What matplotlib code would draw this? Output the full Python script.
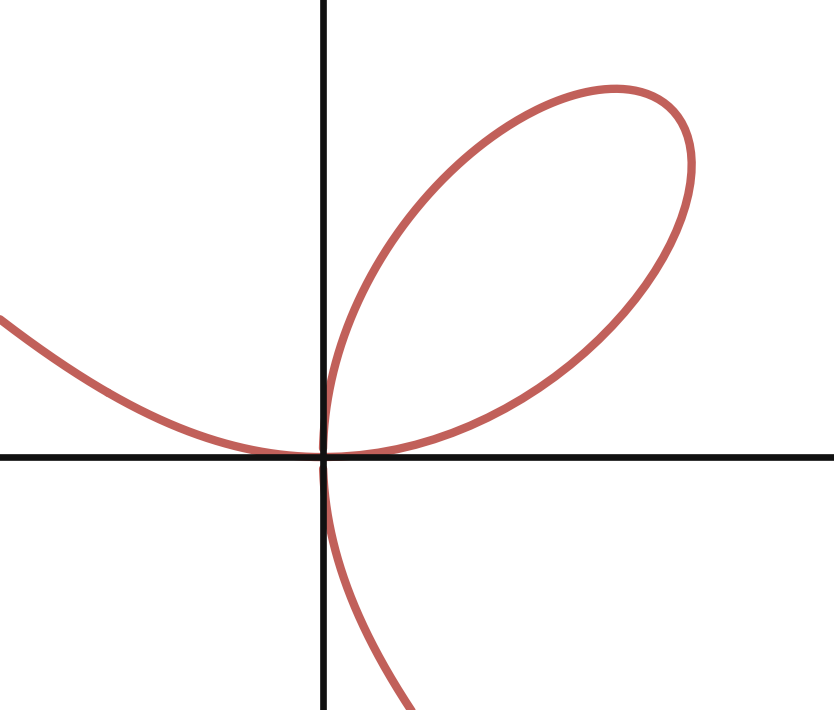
import numpy as np
import matplotlib.pyplot as plt

# Folium of Descartes: x^3 + y^3 = 3*a*x*y
a = 1.0
x_limits = [-1.39, 2.20]
y_limits = [-1.09, 1.97]

# parameter ranges for x = 3at/(1+t^3), y = 3at^2/(1+t^3)
t_ranges = [
    (0, 80),        # loop in first quadrant
    (-0.3, 0),      # bit below the origin
    (-0.999, -0.3), # lower right branch
    (-1.001, -60),  # upper left branch
]


def folium(t):
    d = 1 + t ** 3
    return 3 * a * t / d, 3 * a * t ** 2 / d


fig = plt.figure(figsize=(8.34, 7.10), dpi=100)
ax = fig.add_axes([0, 0, 1, 1])

curve_color = "#c1605a"
for t0, t1 in t_ranges:
    x, y = folium(np.linspace(t0, t1, 3000))
    ax.plot(x, y, color=curve_color, lw=6.0, solid_capstyle="round", zorder=2)

ax.axhline(0, color="#111111", lw=4.8, zorder=3)
ax.axvline(0, color="#111111", lw=4.8, zorder=3)

ax.set_xlim(x_limits)
ax.set_ylim(y_limits)
ax.axis("off")

fig.savefig("out.png", dpi=100)
